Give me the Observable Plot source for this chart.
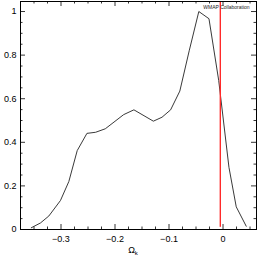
<!DOCTYPE html>
<html>
<head>
<meta charset="utf-8">
<script src="https://cdn.jsdelivr.net/npm/d3@7"></script>
<script src="https://cdn.jsdelivr.net/npm/@observablehq/plot@0.6"></script>
<style>
  html, body { margin: 0; padding: 0; background: #fff; }
</style>
</head>
<body>
<div id="chart"></div>
<script>
// Curve data (Omega_k vs relative likelihood)
const omegaK = [-0.355, -0.338, -0.3225, -0.301, -0.2855, -0.27, -0.252, -0.236, -0.218, -0.184, -0.165, -0.129, -0.113, -0.097, -0.080, -0.0626, -0.0448, -0.026, -0.008, 0.011, 0.0245, 0.043];
const likelihood = [0.008, 0.03, 0.062, 0.133, 0.22, 0.362, 0.441, 0.446, 0.462, 0.527, 0.549, 0.497, 0.515, 0.549, 0.635, 0.82, 1.0, 0.967, 0.684, 0.285, 0.104, 0.015];

// WMAP reference line
const wmapX = [-0.005];
const wmapLabel = ["WMAP Collaboration"];

// Ticks
const xMajor = [-0.3, -0.2, -0.1, 0];
const xLabels = ["\u22120.3", "\u22120.2", "\u22120.1", "0"];
const xMinor = d3.range(-0.375, 0.0625, 0.025).map(v => +v.toFixed(3)).filter(v => !xMajor.some(m => Math.abs(m - v) < 1e-9));
const yMajor = [0, 0.2, 0.4, 0.6, 0.8, 1];
const yLabels = ["0", "0.2", "0.4", "0.6", "0.8", "1"];
const yMinor = d3.range(0.05, 1.05, 0.05).map(v => +v.toFixed(2)).filter(v => !yMajor.some(m => Math.abs(m - v) < 1e-9));

const xDomain = [-0.375, 0.062];
const yDomain = [0, 1.046];

const curve = omegaK.map((x, i) => ({x, y: likelihood[i]}));

// tick lengths in data units
const xPerPx = (xDomain[1] - xDomain[0]) / 236;
const yPerPx = (yDomain[1] - yDomain[0]) / 228;
const majLen = 5, minLen = 2.5;

function xTicks(vals, len) {
  return [
    Plot.ruleX(vals, {x: d => d, y1: yDomain[0], y2: yDomain[0] + len * yPerPx, stroke: "#000", strokeWidth: 0.8}),
    Plot.ruleX(vals, {x: d => d, y1: yDomain[1] - len * yPerPx, y2: yDomain[1], stroke: "#000", strokeWidth: 0.8})
  ];
}
function yTicks(vals, len) {
  return [
    Plot.ruleY(vals, {y: d => d, x1: xDomain[0], x2: xDomain[0] + len * xPerPx, stroke: "#000", strokeWidth: 0.8}),
    Plot.ruleY(vals, {y: d => d, x1: xDomain[1] - len * xPerPx, x2: xDomain[1], stroke: "#000", strokeWidth: 0.8})
  ];
}

const chart = Plot.plot({
  width: 257,
  height: 258,
  marginLeft: 20,
  marginRight: 1,
  marginTop: 1,
  marginBottom: 29,
  style: {fontFamily: "'Liberation Sans', Arial, sans-serif", fontSize: "9px", color: "#000", background: "#fff"},
  x: {domain: xDomain, label: null},
  y: {domain: yDomain, label: null},
  marks: [
    Plot.axisX(xMajor, {tickSize: 0, tickPadding: 6, tickFormat: (d, i) => xLabels[i], fontSize: 9}),
    Plot.axisY(yMajor, {tickSize: 0, tickPadding: 4, tickFormat: (d, i) => yLabels[i], fontSize: 9}),
    ...xTicks(xMajor, majLen),
    ...xTicks(xMinor, minLen),
    ...yTicks(yMajor, majLen),
    ...yTicks(yMinor, minLen),
    Plot.line(curve, {x: "x", y: "y", stroke: "#222", strokeWidth: 0.9}),
    Plot.ruleX(wmapX, {x: d => d, y1: 0.01, y2: yDomain[1], stroke: "#ff2a2a", strokeWidth: 1.4}),
    Plot.text(wmapLabel, {x: -0.0365, y: 1.018, text: d => d, textAnchor: "start", fontSize: 5, fill: "#222"}),
    Plot.frame({stroke: "#000", strokeWidth: 1})
  ]
});

// x-axis title Ω with subscript k
const svg = d3.select(chart);
const t = svg.append("text")
  .attr("x", 133)
  .attr("y", 253)
  .attr("font-size", 9)
  .attr("fill", "#000");
t.append("tspan").text("\u03A9");
t.append("tspan").attr("font-size", 6).attr("dy", 2).text("k");

document.getElementById("chart").appendChild(chart);
</script>
</body>
</html>
